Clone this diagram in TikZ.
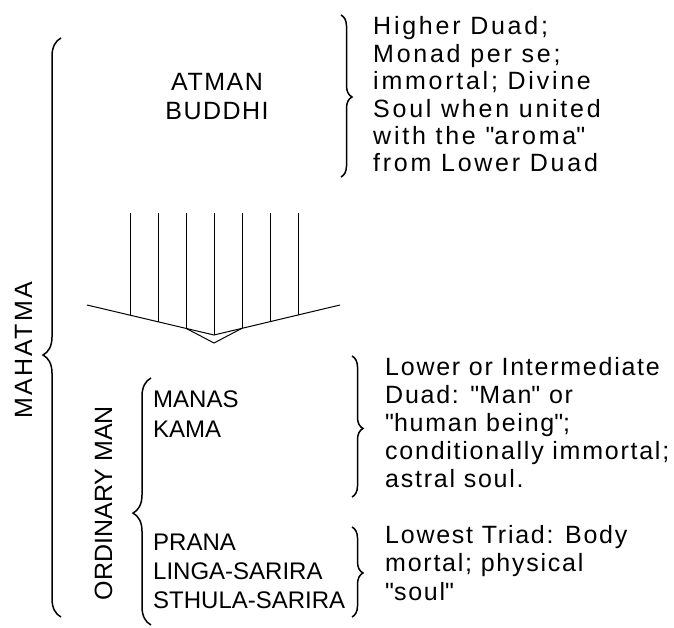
\documentclass[tikz,border=0pt]{standalone}
\usepackage{fontspec}
\setmainfont{Liberation Sans}
\usetikzlibrary{decorations.pathreplacing}

\tikzset{
  lbrace/.style={decorate,decoration={brace,amplitude=18pt,aspect=#1},line width=1.5pt},
  rbrace/.style={decorate,decoration={brace,amplitude=11pt,aspect=#1},line width=1.5pt},
  principle/.style={inner sep=0pt,align=left,anchor=base west,
    font=\fontsize{24}{30}\selectfont},
  sidelabel/.style={inner sep=0pt,anchor=base,rotate=90,
    font=\fontsize{25}{30}\selectfont},
  note/.style={inner sep=0pt,align=left,anchor=base west,
    font=\fontsize{25}{28}\selectfont\addfontfeature{LetterSpace=7}},
  ray/.style={line width=1pt}
}
\newcommand{\qq}{\textquotedbl}

\begin{document}
\begin{tikzpicture}[x=1pt,y=-1pt]
  \useasboundingbox (0,0) rectangle (674,628);

  % upper duad (multi-line nodes sit on their last baseline)
  \node[principle,align=center,anchor=base,font=\fontsize{25}{29}\selectfont\addfontfeature{LetterSpace=6}]
    (atman) at (217,120) {ATMAN\\BUDDHI};
  \coordinate (atop) at (341,15);
  \coordinate (abot) at (341,177);
  \draw[rbrace=0.506] (atop) -- (abot);
  \node[note,font=\fontsize{25}{27.4}\selectfont\addfontfeature{LetterSpace=11}]
    (higher) at (373,172) {Higher Duad;\\Monad per se;\\immortal; Divine\\Soul when united\\with the \qq aroma\qq\\from Lower Duad};

  % the rays coming down
  \coordinate (vleft) at (87,305);
  \coordinate (vtip) at (214,335);
  \coordinate (vright) at (340,305);
  \coordinate (vpoint) at (214,343);
  \foreach \x in {130,158,...,298}
    \draw[ray] (\x,213) -- (\x,{335-30*abs(\x-214)/126});
  \draw[ray] (vleft) -- (vtip) -- (vright);
  \draw[ray] (186,328.3) -- (vpoint) -- (242,328.3);

  % left side
  \node[sidelabel,font=\fontsize{25}{30}\selectfont\addfontfeature{LetterSpace=8.6}]
    (mahatma) at (32,350) {MAHATMA};
  \coordinate (mtop) at (61,38);
  \coordinate (mbot) at (61,617);
  \draw[lbrace=0.4525] (mbot) -- (mtop);

  \node[sidelabel] (ordinary) at (112,503) {ORDINARY MAN};
  \coordinate (otop) at (151,378);
  \coordinate (obot) at (151,625);
  \draw[lbrace=0.453] (obot) -- (otop);

  % lower duad
  \node[principle] (manas) at (153,437) {MANAS\\KAMA};
  \coordinate (ltop) at (352,356);
  \coordinate (lbot) at (352,497);
  \draw[rbrace=0.514] (ltop) -- (lbot);
  \node[note] (lower) at (385,487)
    {Lower or Intermediate\\Duad: \qq Man\qq{} or\\\qq human being\qq;\\conditionally immortal;\\astral soul.};

  % lowest triad
  \node[principle,font=\fontsize{24}{29}\selectfont] (prana) at (153,608)
    {PRANA\\LINGA-SARIRA\\STHULA-SARIRA};
  \coordinate (ttop) at (352,527);
  \coordinate (tbot) at (352,617);
  \draw[rbrace=0.511] (ttop) -- (tbot);
  \node[note,font=\fontsize{25}{28.5}\selectfont\addfontfeature{LetterSpace=7}] (lowest) at (385,600)
    {Lowest Triad: Body\\mortal; physical\\\qq soul\qq};
\end{tikzpicture}
\end{document}
